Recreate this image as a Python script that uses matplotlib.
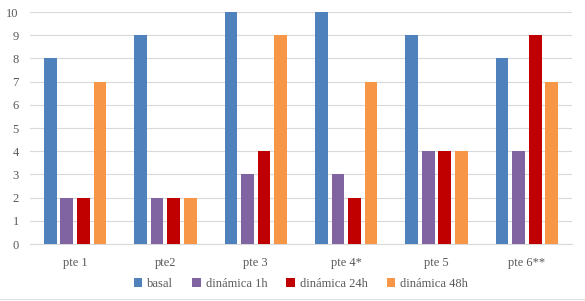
import numpy as np
import matplotlib.pyplot as plt

plt.rcParams['font.family'] = ['Liberation Serif', 'DejaVu Serif']

patients = ['pte 1', 'pte2', 'pte 3', 'pte 4*', 'pte 5', 'pte 6**']
basal = [8, 9, 10, 10, 9, 8]
din_1h = [2, 2, 3, 3, 4, 4]
din_24h = [2, 2, 4, 2, 4, 9]
din_48h = [7, 2, 9, 7, 4, 7]

series = [('basal', basal, '#4F81BD'),
          ('dinámica 1h', din_1h, '#8064A2'),
          ('dinámica 24h', din_24h, '#C00000'),
          ('dinámica 48h', din_48h, '#F79646')]

fig = plt.figure(figsize=(5.85, 3.01), dpi=100)
ax = fig.add_axes([0.051, 0.189, 0.927, 0.771])

x = np.arange(len(patients))
step = 0.183
width = 0.14
for i, (name, vals, col) in enumerate(series):
    ax.bar(x + (i - 1.5) * step, vals, width, color=col, label=name, zorder=3)

ax.set_xlim(-0.5, len(patients) - 0.5)
ax.set_ylim(0, 10)
ax.set_yticks(range(0, 11))
ax.set_xticks(x)
ax.set_xticklabels(patients)
ax.grid(axis='y', color='#D9D9D9', linewidth=0.8, zorder=0)
for s in ['top', 'right', 'left']:
    ax.spines[s].set_visible(False)
ax.spines['bottom'].set_color('#D9D9D9')
ax.tick_params(length=0, labelsize=9, colors='#595959', pad=8)
ax.tick_params(axis='x', pad=9)

ax.legend(loc='center', bbox_to_anchor=(0.5, -0.17), ncol=4, frameon=False,
          fontsize=9, handlelength=0.7, handleheight=0.7, handletextpad=0.4,
          columnspacing=1.5, labelcolor='#595959')

# faint line along the bottom of the chart area
fig.add_artist(plt.Line2D([0, 1], [0.008, 0.008], color='#E0E0E0', linewidth=0.8))

fig.savefig('out.png', dpi=100)
